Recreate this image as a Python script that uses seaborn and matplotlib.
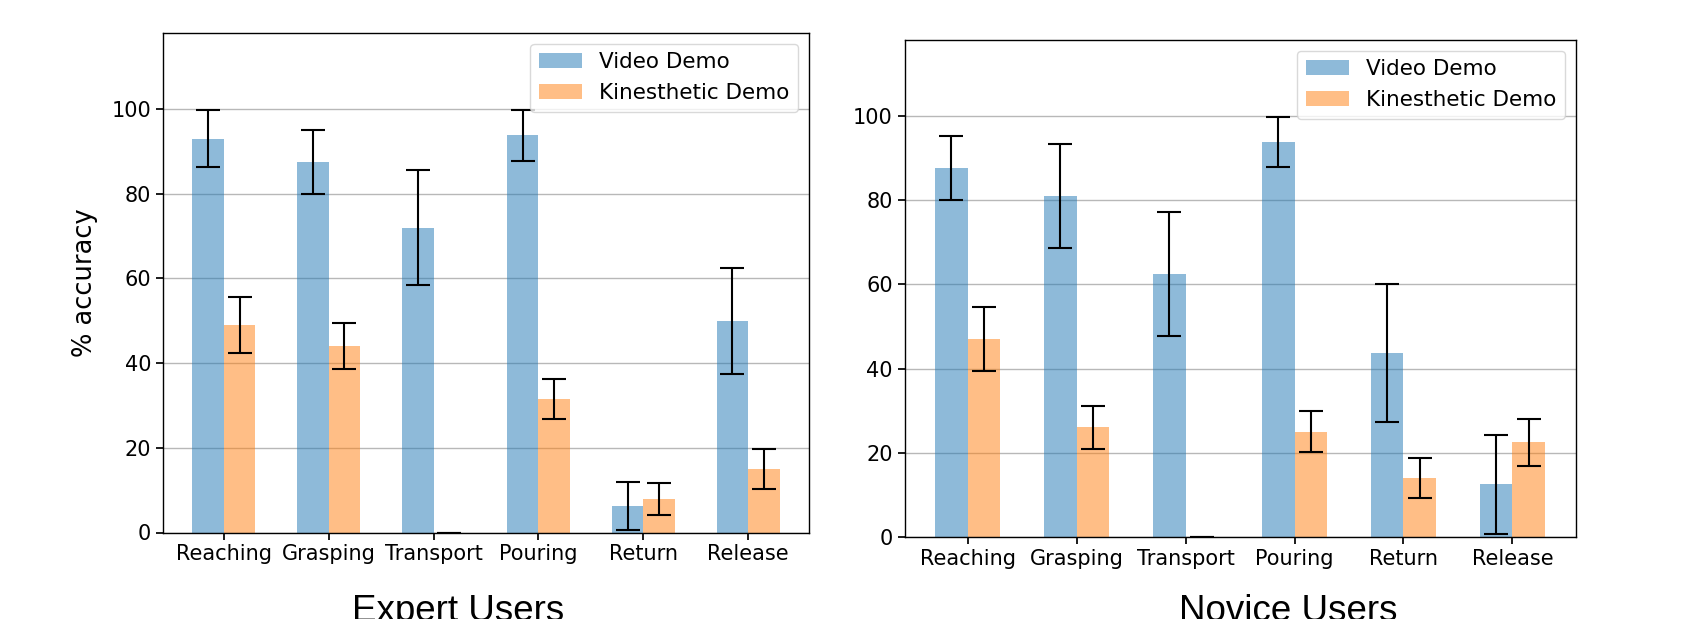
import matplotlib
matplotlib.use("Agg")
import matplotlib.pyplot as plt
import seaborn as sns
import numpy as np
import pandas as pd

phases = ["Reaching", "Grasping", "Transport", "Pouring", "Return", "Release"]
demos = ["Video Demo", "Kinesthetic Demo"]

expert_video = [93.0, 87.5, 72.0, 93.75, 6.25, 50.0]
expert_video_err = [6.7, 7.5, 13.5, 6.0, 5.7, 12.5]
expert_kin = [49.0, 44.0, 0.0, 31.5, 8.0, 15.0]
expert_kin_err = [6.7, 5.4, 0.0, 4.8, 3.8, 4.8]

novice_video = [87.5, 81.0, 62.5, 93.75, 43.75, 12.5]
novice_video_err = [7.6, 12.3, 14.7, 5.9, 16.4, 11.8]
novice_kin = [47.0, 26.0, 0.0, 25.0, 14.0, 22.5]
novice_kin_err = [7.7, 5.2, 0.0, 4.8, 4.7, 5.6]

sns.set_theme(style="ticks", rc={
    "axes.edgecolor": "black",
    "axes.linewidth": 1.0,
    "grid.color": "#b8b8b8",
    "grid.linewidth": 1.0,
    "xtick.major.size": 5,
    "ytick.major.size": 5,
    "text.color": "black",
    "axes.labelcolor": "black",
    "xtick.color": "black",
    "ytick.color": "black",
})
plt.rcParams["font.family"] = ["DejaVu Sans"]


def make_df(video, kin):
    return pd.DataFrame({
        "phase": phases * 2,
        "acc": list(video) + list(kin),
        "demo": [demos[0]] * len(phases) + [demos[1]] * len(phases),
    })


def draw_panel(ax, video, video_err, kin, kin_err):
    df = make_df(video, kin)
    sns.barplot(data=df, x="phase", y="acc", hue="demo", order=phases,
                hue_order=demos, palette=["tab:blue", "tab:orange"],
                width=0.6, saturation=1, alpha=0.5, errorbar=None, ax=ax,
                linewidth=0, zorder=2)
    x = np.arange(len(phases))
    ax.errorbar(x - 0.15, video, yerr=video_err, fmt="none", ecolor="black",
                elinewidth=1.5, capsize=8.5, capthick=1.5, zorder=3)
    ax.errorbar(x + 0.15, kin, yerr=kin_err, fmt="none", ecolor="black",
                elinewidth=1.5, capsize=8.5, capthick=1.5, zorder=3)
    ax.set_xticks(x)
    ax.set_xticklabels(phases)
    ax.set_xlim(-0.58, 5.58)
    ax.set_ylim(0, 118)
    ax.set_yticks([0, 20, 40, 60, 80, 100])
    ax.yaxis.grid(True, zorder=0)
    ax.set_axisbelow(True)
    ax.set_xlabel("")
    ax.set_ylabel("")
    ax.tick_params(labelsize=15, colors="black")
    ax.legend(loc="upper right", fontsize=15.5, framealpha=0.8,
              edgecolor="#d0d0d0", borderpad=0.4, handlelength=2.0,
              labelcolor="black")


fig = plt.figure(figsize=(16.84, 6.19), dpi=100)
ax1 = fig.add_axes([163 / 1684, 1 - 532.5 / 619, (809 - 163) / 1684, (532.5 - 32.8) / 619])
ax2 = fig.add_axes([904.5 / 1684, 1 - 537 / 619, (1575.6 - 904.5) / 1684, (537 - 40) / 619])

draw_panel(ax1, expert_video, expert_video_err, expert_kin, expert_kin_err)
draw_panel(ax2, novice_video, novice_video_err, novice_kin, novice_kin_err)

ax1.set_ylabel("% accuracy", fontsize=18.5, labelpad=10, color="black")

fig.text(458.5 / 1684, 1 - 621 / 619, "Expert Users", ha="center", va="baseline",
         fontsize=26.5, color="black", family=["Liberation Sans", "DejaVu Sans"])
fig.text(1288 / 1684, 1 - 621 / 619, "Novice Users", ha="center", va="baseline",
         fontsize=26.5, color="black", family=["Liberation Sans", "DejaVu Sans"])

fig.savefig("out.png", dpi=100)
